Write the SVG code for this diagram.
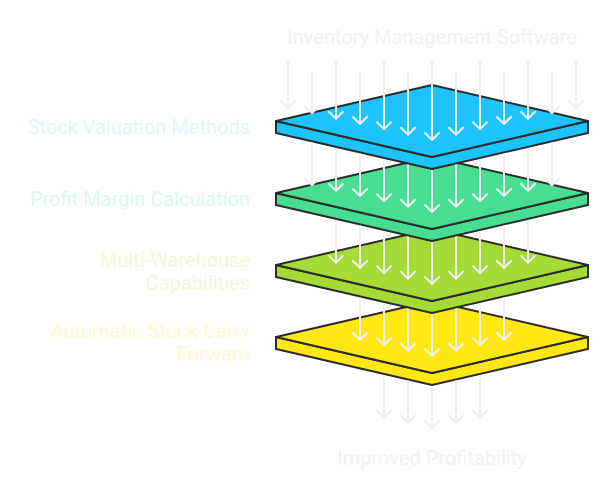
<svg xmlns="http://www.w3.org/2000/svg" width="612" height="488" viewBox="0 0 612 488">
<style>
.plate{stroke:#2b2b2b;stroke-width:2;stroke-linejoin:round}
.arr{fill:none;stroke:#f0f0f0;stroke-width:2;marker-end:url(#ah)}
.t{font-family:Roboto,"Liberation Sans",sans-serif;font-size:20px}
.lbl{text-anchor:end}
</style>
<defs>
<marker id="ah" markerUnits="userSpaceOnUse" markerWidth="20" markerHeight="20" viewBox="-10 -10 20 20" refX="0" refY="0" orient="auto" overflow="visible">
<path d="M-7,-7 L0,0 L-7,7" fill="none" stroke="#f0f0f0" stroke-width="2" stroke-linecap="round" stroke-linejoin="round"/>
</marker>
</defs>
<rect width="612" height="488" fill="#ffffff"/>

<g id="plate-yellow">
<path class="plate" fill="#FFE713" d="M276,337 L276,349 L432,385 L588,349 L588,337 L432,373 Z"/>
<path class="plate" fill="#FFE713" d="M276,337 L432,301 L588,337 L432,373 Z"/>
</g>
<g id="plate-lime">
<path class="plate" fill="#A6DB37" d="M276,265 L276,277 L432,313 L588,277 L588,265 L432,301 Z"/>
<path class="plate" fill="#A6DB37" d="M276,265 L432,229 L588,265 L432,301 Z"/>
</g>
<g id="plate-green">
<path class="plate" fill="#47DE94" d="M276,193 L276,205 L432,241 L588,205 L588,193 L432,229 Z"/>
<path class="plate" fill="#47DE94" d="M276,193 L432,157 L588,193 L432,229 Z"/>
</g>
<g id="plate-blue">
<path class="plate" fill="#1CC3FC" d="M276,121 L276,133 L432,169 L588,133 L588,121 L432,157 Z"/>
<path class="plate" fill="#1CC3FC" d="M276,121 L432,85 L588,121 L432,157 Z"/>
</g>

<g id="connectors">
<path class="arr" d="M288,60 V108"/>
<path class="arr" d="M312,72 V113.3"/>
<path class="arr" d="M336,60 V118.7"/>
<path class="arr" d="M360,72 V124"/>
<path class="arr" d="M384,60 V129.3"/>
<path class="arr" d="M408,72 V134.7"/>
<path class="arr" d="M432,60 V140"/>
<path class="arr" d="M456,72 V134.7"/>
<path class="arr" d="M480,60 V129.3"/>
<path class="arr" d="M504,72 V124"/>
<path class="arr" d="M528,60 V118.7"/>
<path class="arr" d="M552,72 V113.3"/>
<path class="arr" d="M576,60 V108"/>

<path class="arr" d="M312,142.5 V185.3"/>
<path class="arr" d="M336,148 V190.7"/>
<path class="arr" d="M360,153.5 V196"/>
<path class="arr" d="M384,159 V201.3"/>
<path class="arr" d="M408,164.5 V206.7"/>
<path class="arr" d="M432,170 V212"/>
<path class="arr" d="M456,164.5 V206.7"/>
<path class="arr" d="M480,159 V201.3"/>
<path class="arr" d="M504,153.5 V196"/>
<path class="arr" d="M528,148 V190.7"/>
<path class="arr" d="M552,142.5 V185.3"/>

<path class="arr" d="M336,220 V262.7"/>
<path class="arr" d="M360,225.5 V268"/>
<path class="arr" d="M384,231 V273.3"/>
<path class="arr" d="M408,236.5 V278.7"/>
<path class="arr" d="M432,242 V284"/>
<path class="arr" d="M456,236.5 V278.7"/>
<path class="arr" d="M480,231 V273.3"/>
<path class="arr" d="M504,225.5 V268"/>
<path class="arr" d="M528,220 V262.7"/>

<path class="arr" d="M360,297.5 V340"/>
<path class="arr" d="M384,303 V345.3"/>
<path class="arr" d="M408,308.5 V350.7"/>
<path class="arr" d="M432,314 V356"/>
<path class="arr" d="M456,308.5 V350.7"/>
<path class="arr" d="M480,303 V345.3"/>
<path class="arr" d="M504,297.5 V340"/>

<path class="arr" d="M384,375 V417.3"/>
<path class="arr" d="M408,380.5 V422.7"/>
<path class="arr" d="M432,386 V428"/>
<path class="arr" d="M456,380.5 V422.7"/>
<path class="arr" d="M480,375 V417.3"/>
</g>

<g id="label-top"><text class="t" x="432" y="44" text-anchor="middle" fill="#f2f2f2">Inventory Management Software</text></g>
<g id="label-bottom"><text class="t" x="432" y="465" text-anchor="middle" fill="#f2f2f2">Improved Profitability</text></g>
<g id="label-stock"><text class="t lbl" x="250" y="134" fill="#e3f6fe">Stock Valuation Methods</text></g>
<g id="label-profit"><text class="t lbl" x="250" y="206" fill="#def9ec">Profit Margin Calculation</text></g>
<g id="label-multi"><text class="t lbl" x="250" y="267" fill="#f1f9db">Multi-Warehouse<tspan x="250" y="290">Capabilities</tspan></text></g>
<g id="label-auto"><text class="t lbl" x="250" y="338" fill="#fffad2">Automatic Stock Carry<tspan x="250" y="361">Forward</tspan></text></g>
</svg>
